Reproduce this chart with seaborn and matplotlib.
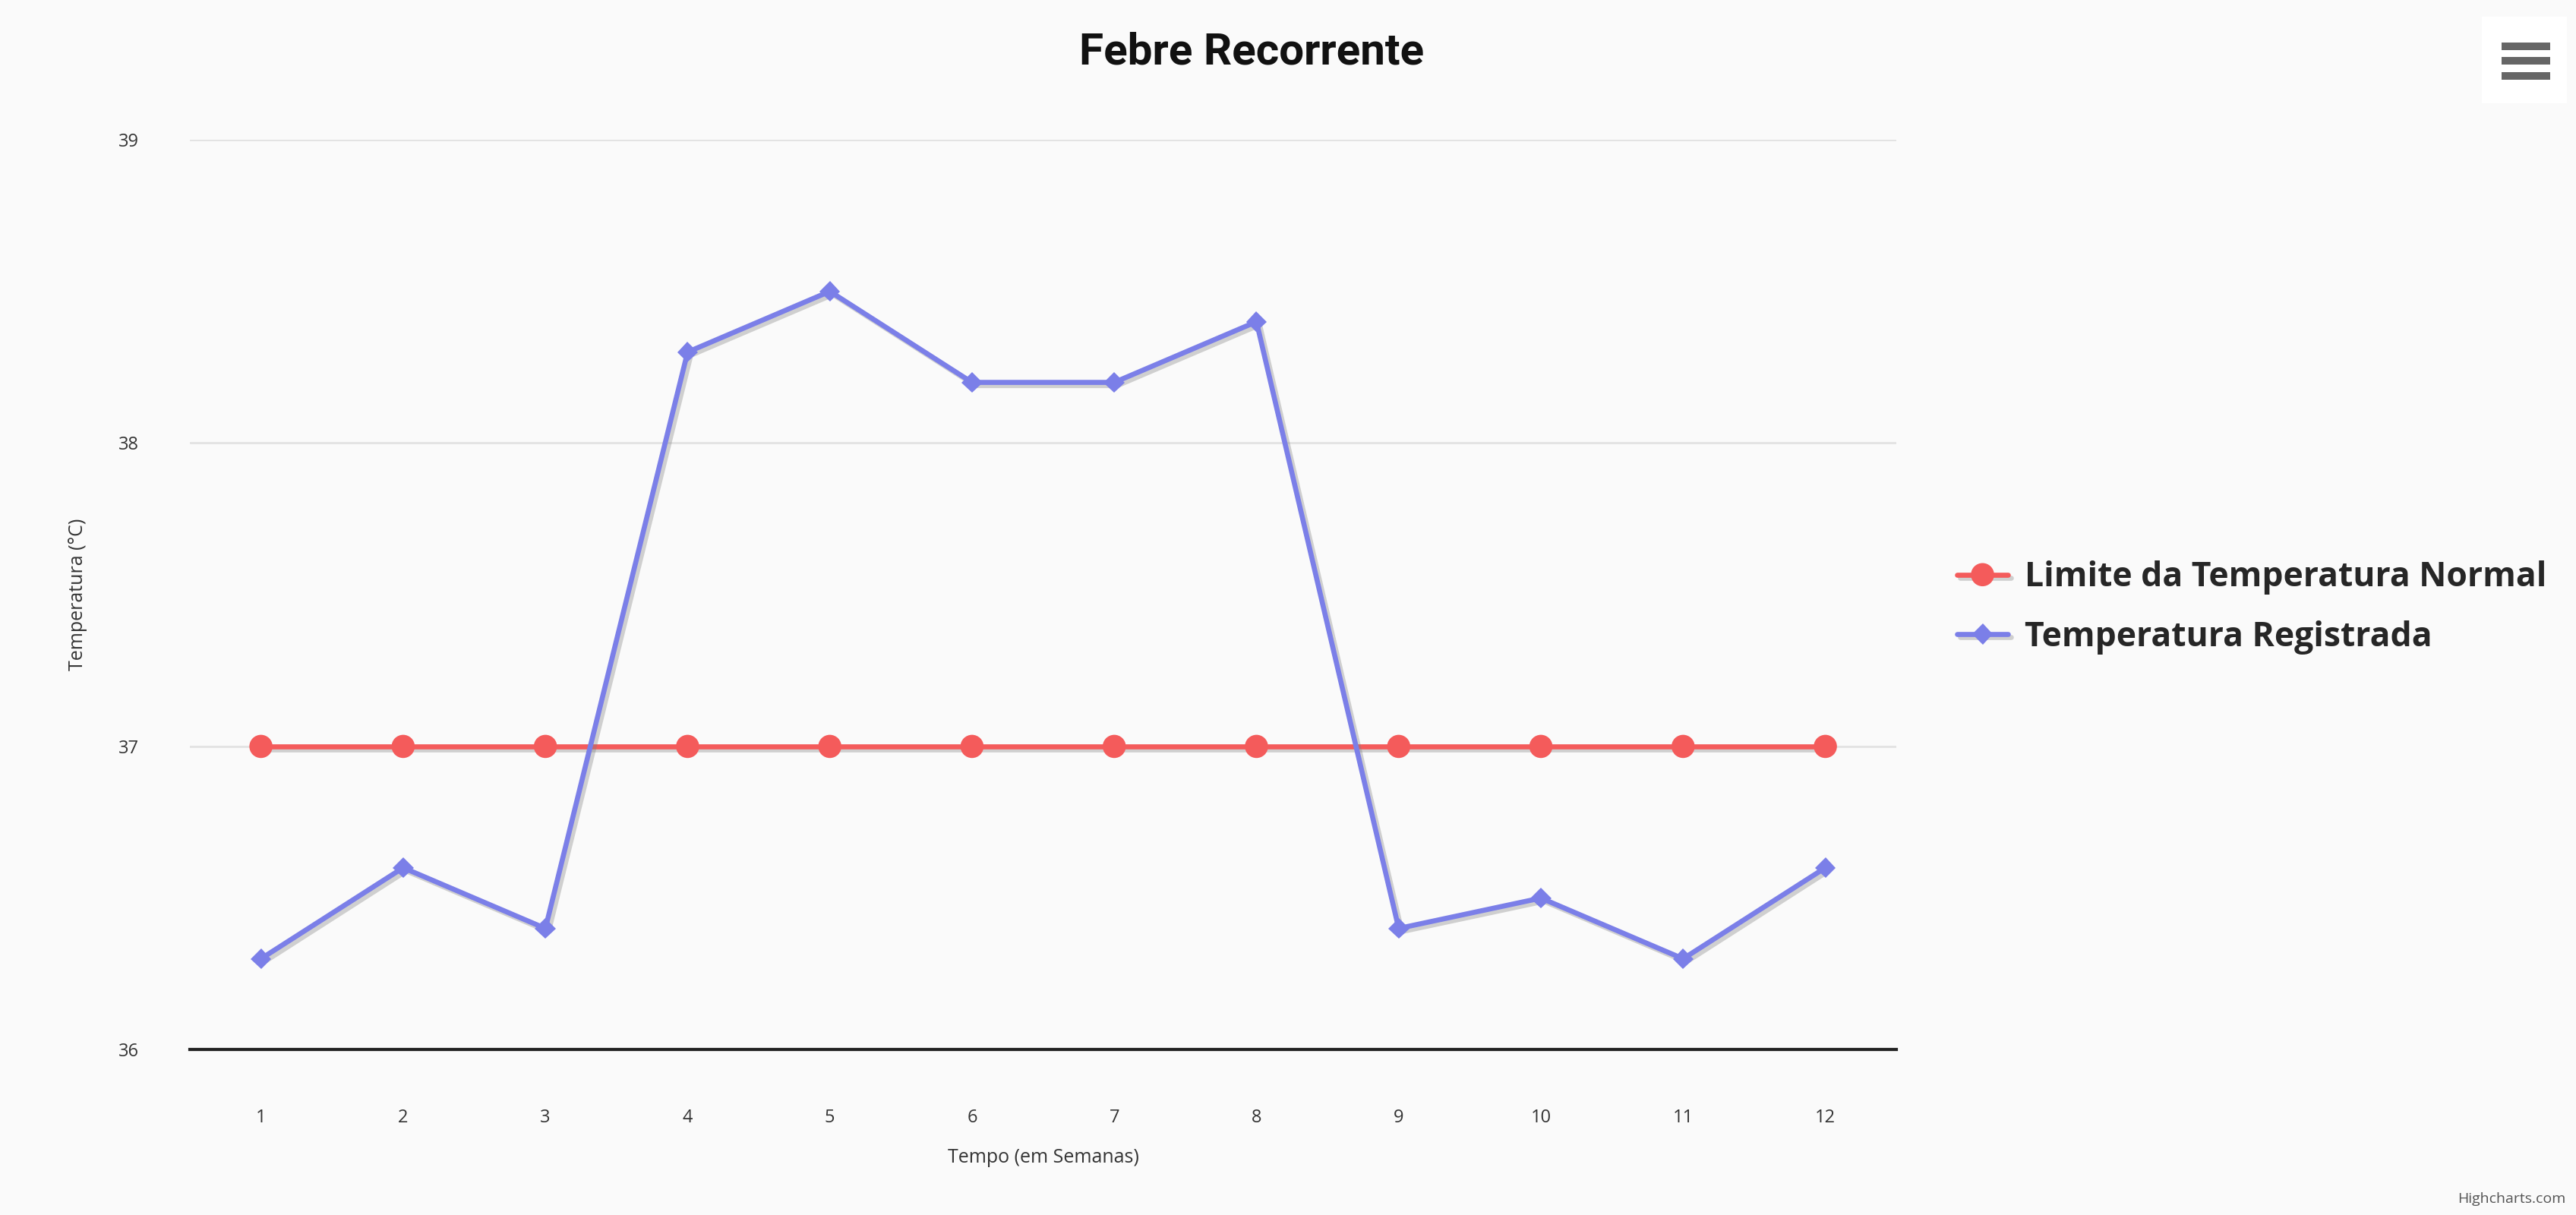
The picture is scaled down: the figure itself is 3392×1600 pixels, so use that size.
import numpy as np
import pandas as pd
import matplotlib.pyplot as plt
import matplotlib.patheffects as pe
from matplotlib.patches import Rectangle
import seaborn as sns

# Data
semanas = list(range(1, 13))
limite_normal = [37, 37, 37, 37, 37, 37, 37, 37, 37, 37, 37, 37]
temp_registrada = [36.3, 36.6, 36.4, 38.3, 38.5, 38.2, 38.2, 38.4, 36.4, 36.5, 36.3, 36.6]
y_ticks = [36, 37, 38, 39]

df = pd.DataFrame({
    "Semana": semanas,
    "Limite": limite_normal,
    "Registrada": temp_registrada,
})

sns.set_theme(style="white")
plt.rcParams["font.family"] = ["Open Sans", "DejaVu Sans"]

bg = "#fafafa"
red = "#f45b5b"
blue = "#7b7fe8"

fig = plt.figure(figsize=(16.96, 8), dpi=200, facecolor=bg)
ax = fig.add_axes([0.0737, 0.136, 0.6625, 0.749])
ax.set_facecolor(bg)

shadow = [pe.SimpleLineShadow(offset=(1.5, -1.5), shadow_color="gray", alpha=0.35),
          pe.Normal()]

sns.lineplot(data=df, x="Semana", y="Limite", ax=ax, color=red, linewidth=2.4,
             marker="o", markersize=11, markeredgewidth=0,
             label="Limite da Temperatura Normal", path_effects=shadow)
sns.lineplot(data=df, x="Semana", y="Registrada", ax=ax, color=blue, linewidth=2.4,
             marker="D", markersize=7, markeredgewidth=0,
             label="Temperatura Registrada", path_effects=shadow)

ax.set_xlim(0.5, 12.5)
ax.set_ylim(36, 39)
ax.set_xticks(semanas)
ax.set_yticks(y_ticks)
ax.tick_params(axis="both", length=0, labelsize=8.5, colors="#333333")
ax.tick_params(axis="y", pad=24)
ax.tick_params(axis="x", pad=28)
ax.grid(axis="y", color="#e2e2e2", linewidth=1)
for s in ["top", "right", "left"]:
    ax.spines[s].set_visible(False)
ax.spines["bottom"].set_color("#222222")
ax.spines["bottom"].set_linewidth(1.5)
ax.set_axisbelow(True)

ax.set_xlabel("Tempo (em Semanas)", fontsize=9, color="#333333", labelpad=10)
ax.set_ylabel("Temperatura (°C)", fontsize=9, color="#333333", labelpad=15)

ax.get_legend().remove()
handles, labels = ax.get_legend_handles_labels()
leg = fig.legend(handles, labels, loc="center left", bbox_to_anchor=(0.748, 0.5),
                 frameon=False, prop={"weight": "bold", "size": 16},
                 handlelength=1.5, handletextpad=0.5, labelspacing=0.75)

fig.text(0.486, 0.957, "Febre Recorrente", ha="center", va="center",
         fontsize=21, fontweight="bold", color="#111111",
         family=["Roboto", "DejaVu Sans"])

# menu button top right
fig.patches.append(Rectangle((0.9635, 0.915), 0.033, 0.0715, transform=fig.transFigure,
                             facecolor="white", edgecolor="none"))
for yy in [0.962, 0.950, 0.9375]:
    fig.patches.append(Rectangle((0.971, yy - 0.0032), 0.019, 0.0064,
                                 transform=fig.transFigure,
                                 facecolor="#666666", edgecolor="none"))

fig.text(0.996, 0.013, "Highcharts.com", ha="right", va="center",
         fontsize=7, color="#555555")

fig.savefig("out.png", dpi=200, facecolor=bg)
